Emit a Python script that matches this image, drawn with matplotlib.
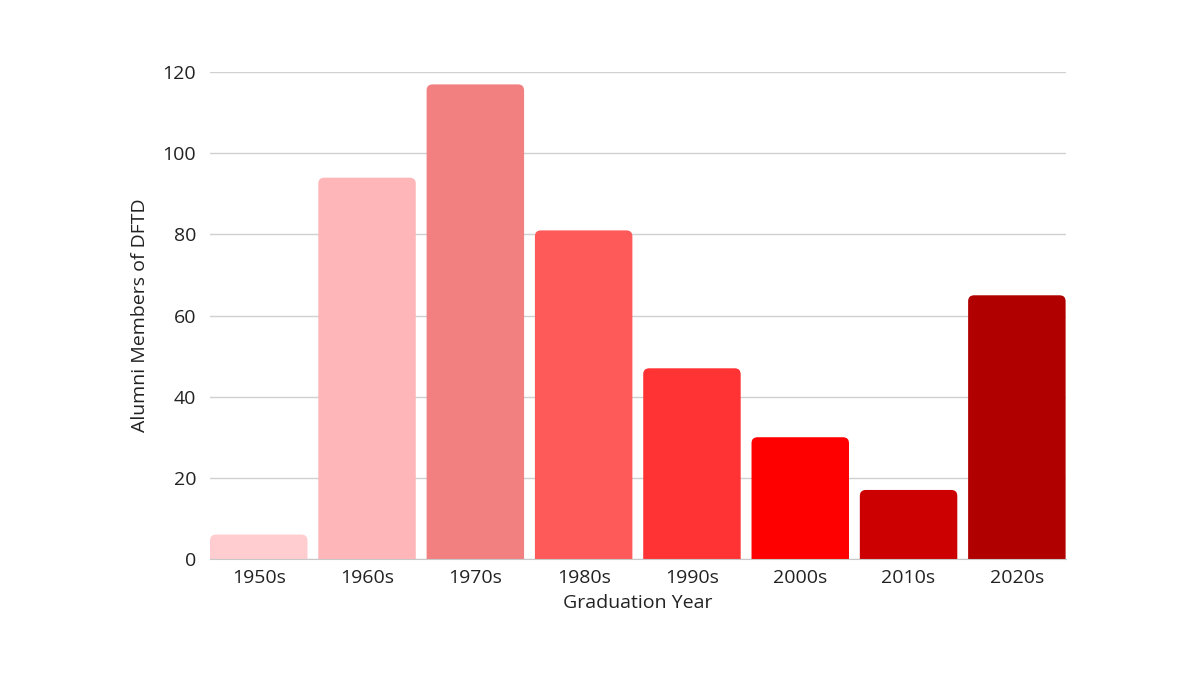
import matplotlib
matplotlib.use("Agg")
import matplotlib.pyplot as plt
from matplotlib.patches import FancyBboxPatch

decades = ["1950s", "1960s", "1970s", "1980s", "1990s", "2000s", "2010s", "2020s"]
members = [6, 94, 117, 81, 47, 30, 17, 65]
colors = ["#FFCDD0", "#FFB6B8", "#F28080", "#FF5A5A",
          "#FF3333", "#FF0000", "#CC0000", "#B00000"]

plt.rcParams["font.family"] = ["Open Sans", "DejaVu Sans"]

fig = plt.figure(figsize=(12, 6.75), dpi=100)
ax = fig.add_axes([0.175, 0.172, 0.713, 0.721])

width = 0.9
ax.set_xlim(-0.45, len(decades) - 0.55)
ax.set_ylim(0, 120)

# px per data unit, used to keep the corner radius round
px_x = 0.713 * 1200 / (len(decades) - 0.1)
px_y = 0.721 * 675 / 120
r = 6 / px_x
below = 10 / px_y  # push the lower rounded corners under the axis, where they get clipped

bars = ax.bar(range(len(decades)), members, width=width, color=colors, zorder=2)
for b, c in zip(bars, colors):
    x0, w, h = b.get_x(), b.get_width(), b.get_height()
    b.set_visible(False)
    ax.add_patch(FancyBboxPatch((x0, -below), w, h + below,
                                boxstyle=f"round,pad=0,rounding_size={r}",
                                mutation_aspect=px_x / px_y,
                                fc=c, ec="none", zorder=2))

ax.set_yticks(range(0, 121, 20))
ax.set_xticks(range(len(decades)), decades)
ax.grid(axis="y", color="#d0d0d0", lw=1, zorder=0)
for s in ["left", "right", "top"]:
    ax.spines[s].set_visible(False)
ax.spines["bottom"].set_color("#c8c8c8")
ax.spines["bottom"].set_zorder(3)
ax.tick_params(length=0, labelsize=14, colors="#222222", pad=10)
ax.tick_params(axis="x", pad=7)
ax.set_xlabel("Graduation Year", fontsize=14, color="#222222", labelpad=5)
ax.set_ylabel("Alumni Members of DFTD", fontsize=14, color="#222222", labelpad=10)

fig.savefig("out.png", dpi=100)
